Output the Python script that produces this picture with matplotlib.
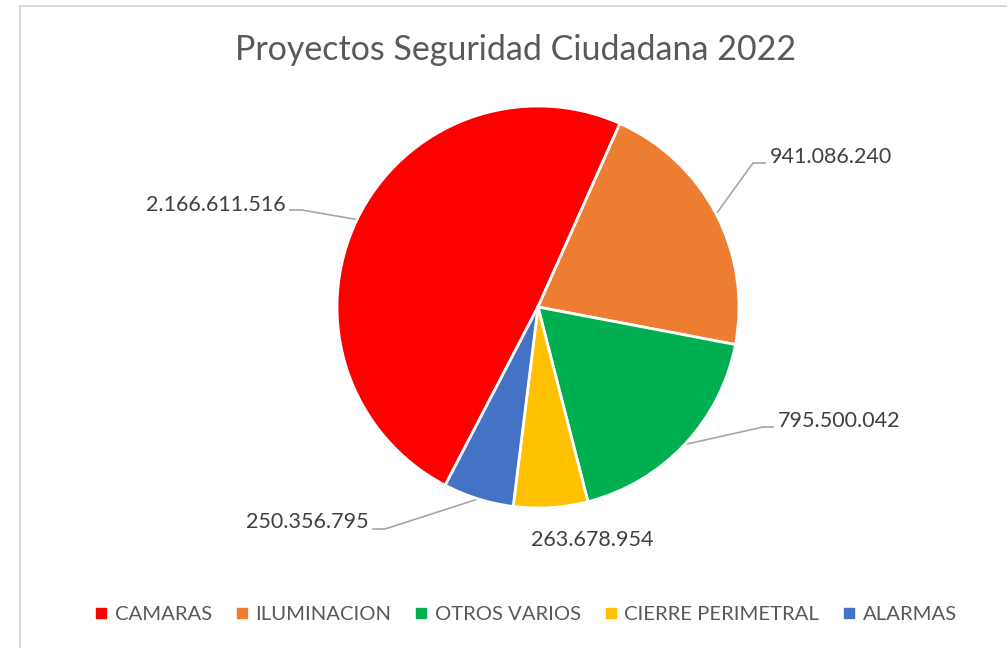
import numpy as np
import matplotlib
matplotlib.use("Agg")
import matplotlib.pyplot as plt
from matplotlib.lines import Line2D
from matplotlib.patches import Rectangle

categories = ["CAMARAS", "ILUMINACION", "OTROS VARIOS", "CIERRE PERIMETRAL", "ALARMAS"]
values = [2166611516, 941086240, 795500042, 263678954, 250356795]
value_labels = ["2.166.611.516", "941.086.240", "795.500.042", "263.678.954", "250.356.795"]
colors = ["#FF0000", "#ED7D31", "#00B050", "#FFC000", "#4472C4"]
title = "Proyectos Seguridad Ciudadana 2022"

FONT = "Lato"
W, H = 1007, 648
fig = plt.figure(figsize=(W / 100, H / 100), dpi=100)
fig.patch.set_facecolor("white")

# chart area border
fig.add_artist(Rectangle((20 / W, -0.1), 1.2, 1 - 6 / H + 0.1, transform=fig.transFigure,
                         fill=False, edgecolor="#D9D9D9", linewidth=1.5))

cx, cy, R = 538, 307, 201
ax = fig.add_axes([(cx - R) / W, (H - cy - R) / H, 2 * R / W, 2 * R / H])
ax.set_xlim(-1, 1)
ax.set_ylim(-1, 1)
ax.set_aspect("equal")
ax.axis("off")

wedges, _ = ax.pie(values, colors=colors, startangle=-117.5, counterclock=False,
                   radius=1, center=(0, 0), frame=False,
                   wedgeprops=dict(edgecolor="white", linewidth=2.0))
ax.set_xlim(-1, 1)
ax.set_ylim(-1, 1)

def px2d(px, py):
    return (px - cx) / R, (cy - py) / R

# label placement (pixels): text anchor, elbow points, alignment
label_spec = [
    dict(text=(286, 205), ha="right", elbow=[(302, 210), (290, 210)]),
    dict(text=(770, 157), ha="left", elbow=[(753, 163), (765, 163)]),
    dict(text=(778, 421), ha="left", elbow=[(763, 427), (773, 427)]),
    dict(text=(592, 540), ha="center", elbow=None),
    dict(text=(369, 522), ha="right", elbow=[(385, 529), (373, 529)]),
]

for w, lab, spec in zip(wedges, value_labels, label_spec):
    tx, ty = px2d(*spec["text"])
    ax.text(tx, ty, lab, ha=spec["ha"], va="center", fontsize=15.5,
            color="#404040", family=FONT, clip_on=False)
    if spec["elbow"]:
        ang = np.deg2rad((w.theta1 + w.theta2) / 2)
        pts = [(np.cos(ang), np.sin(ang))] + [px2d(*p) for p in spec["elbow"]]
        xs, ys = zip(*pts)
        ax.plot(xs, ys, color="#A6A6A6", linewidth=1.2, clip_on=False, zorder=0.5)

fig.text(516 / W, 1 - 50 / H, title, ha="center", va="center", fontsize=24.5,
         color="#595959", family=FONT)

handles = [Line2D([], [], marker="s", linestyle="none", markersize=6.5,
                  markerfacecolor=c, markeredgecolor=c) for c in colors]
fig.legend(handles, categories, loc="center", bbox_to_anchor=(524 / W, 1 - 614 / H),
           ncol=5, frameon=False, handletextpad=0.17, columnspacing=0.97,
           handlelength=1.0, prop=dict(family=FONT, size=14.6), labelcolor="#595959")

fig.savefig("out.png", dpi=100, facecolor="white")
